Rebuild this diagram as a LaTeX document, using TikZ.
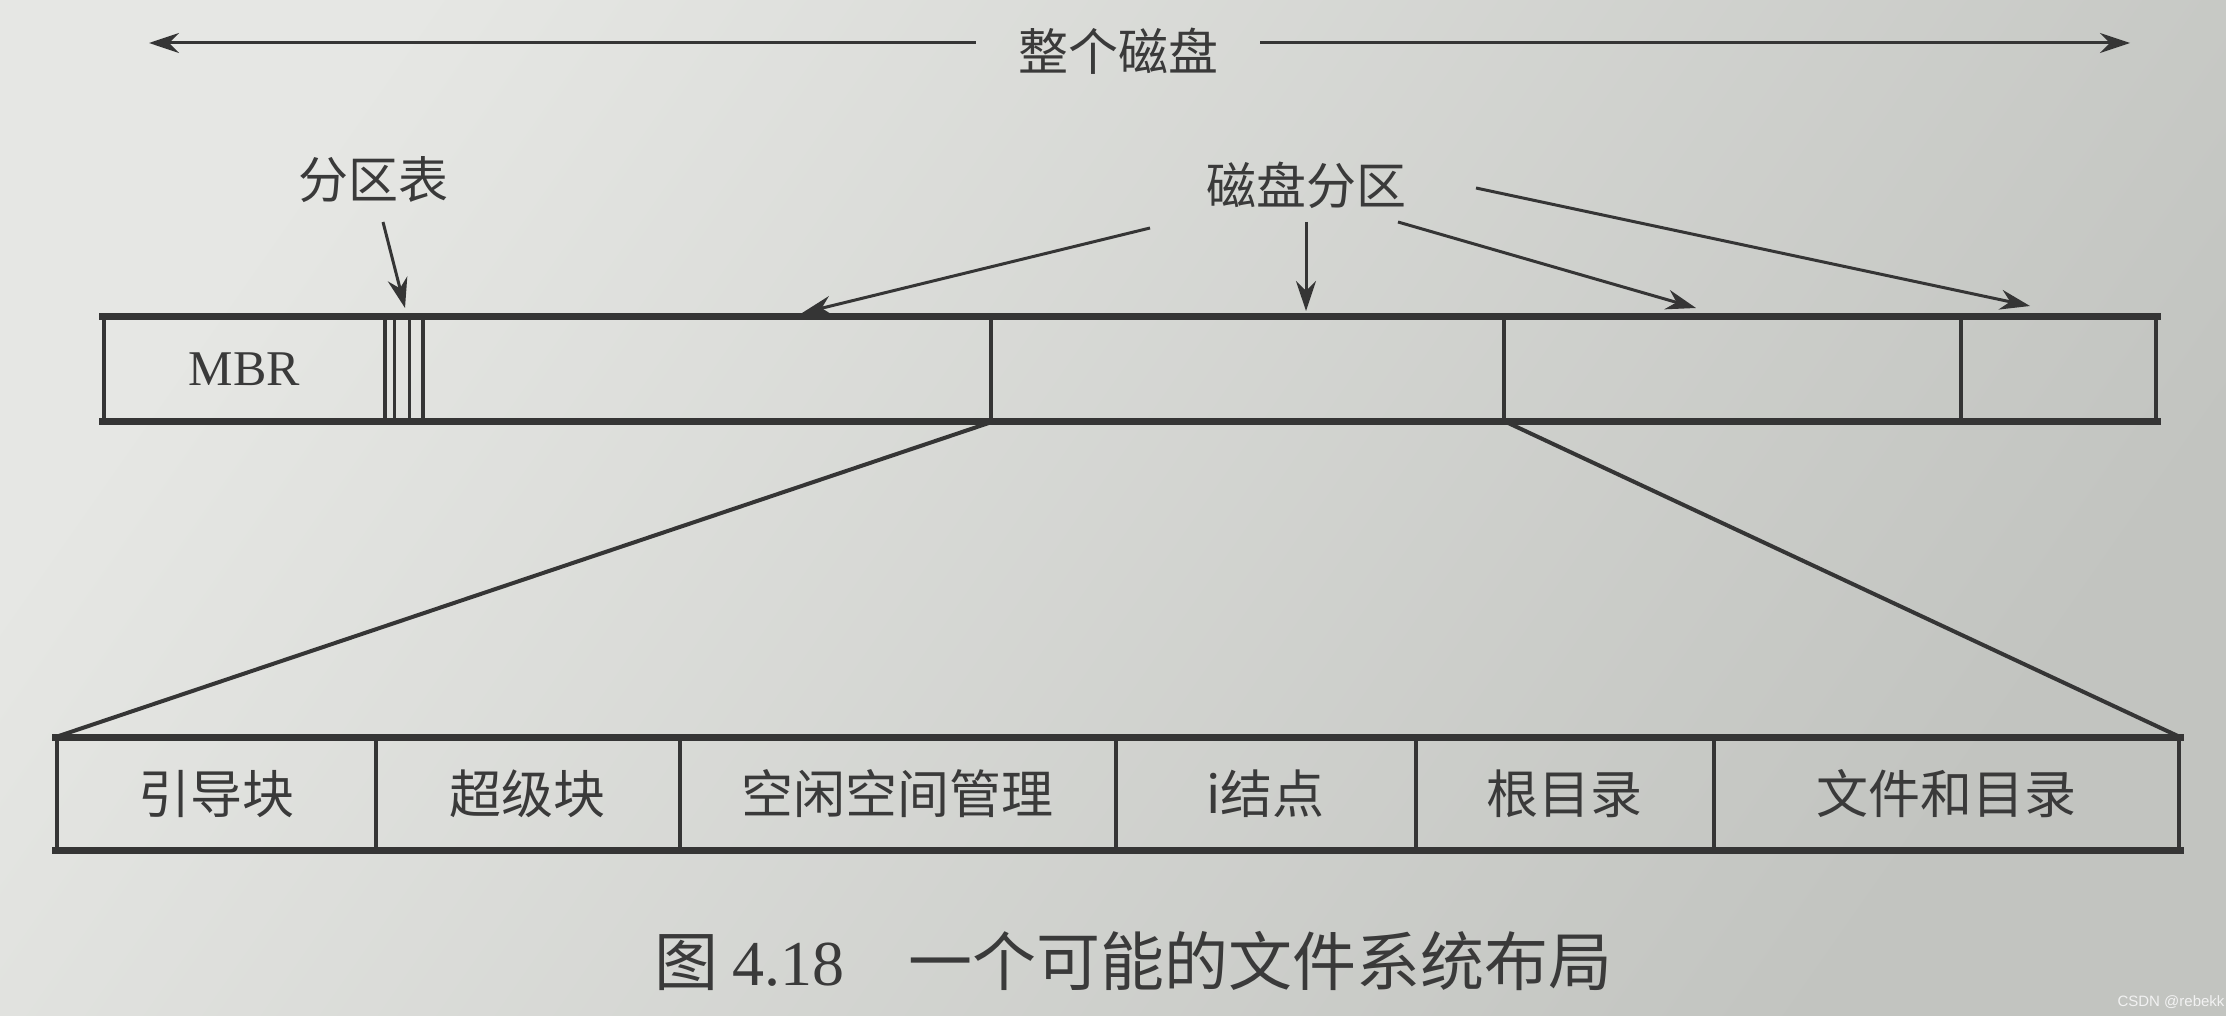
\documentclass[tikz,border=0pt]{standalone}
\usepackage{fontspec}
\setmainfont{Liberation Serif}
\newfontfamily\cjk{Noto Sans CJK SC}
\newfontfamily\wmfont{Liberation Sans}
\usetikzlibrary{arrows.meta,calc}
\definecolor{ink}{HTML}{353535}
\definecolor{txt}{HTML}{3A3A3A}
\definecolor{bgA}{HTML}{E6E7E4}
\definecolor{bgB}{HTML}{C2C4C0}
\tikzset{
  cell/.style={draw=ink, line width=3.5pt, minimum height=102pt, inner sep=0pt, anchor=west, text=txt},
  bcell/.style={cell, minimum height=110pt, font=\cjk\fontsize{52}{60}\selectfont},
  edge/.style={draw=ink, line width=7pt, line cap=rect},
  thinline/.style={draw=ink, line width=3pt},
  link/.style={draw=ink, line width=4pt},
  lbl/.style={text=txt, inner sep=0pt, font=\cjk\fontsize{50}{60}\selectfont},
  arr/.style={draw=ink, line width=3pt, -{Stealth[length=30pt,width=20pt]}},
}
\begin{document}
\begin{tikzpicture}[x=1pt,y=-1pt]
\useasboundingbox (0,0) rectangle (2226,1016);
\shade[top color=bgA, bottom color=bgB, shading angle=55] (0,0) rectangle (2226,1016);

% whole disk
\node[lbl, inner xsep=42pt] (whole) at (1118,51) {整个磁盘};
\coordinate (L) at (149,43);
\coordinate (R) at (2130,43);
\draw[arr] (L -| whole.west) -- (L);
\draw[arr] (R -| whole.east) -- (R);

% top bar
\node[cell, minimum width=281pt, font=\fontsize{50}{56}\selectfont] (mbr) at (102,369) {MBR};
\node[cell, minimum width=38pt] (pt) at (383,369) {};
\node[cell, minimum width=568pt] (p1) at (421,369) {};
\node[cell, minimum width=513pt] (p2) at (989,369) {};
\node[cell, minimum width=457pt] (p3) at (1502,369) {};
\node[cell, minimum width=195pt] (p4) at (1959,369) {};
\draw[thinline] ($(pt.north west)!0.27!(pt.north east)$) -- ($(pt.south west)!0.27!(pt.south east)$);
\draw[thinline] ($(pt.north west)!0.63!(pt.north east)$) -- ($(pt.south west)!0.63!(pt.south east)$);
\draw[edge] (mbr.north west) -- (p4.north east);
\draw[edge] (mbr.south west) -- (p4.south east);

% labels and arrows
\node[lbl] (ptl) at (373,180) {分区表};
\coordinate (ept) at (405,308);
\draw[arr] ($(ptl.center)+(10,42)$) -- (ept);

\node[lbl] (dp) at (1306,185) {磁盘分区};
\coordinate (e1) at (802,313);
\coordinate (e2) at (1306,311);
\coordinate (e3) at (1696,308);
\coordinate (e4) at (2030,306);
\draw[arr] ($(dp.center)+(-156,43)$) -- (e1);
\draw[arr] ($(dp.center)+(0,37)$) -- (e2);
\draw[arr] ($(dp.center)+(92,37)$) -- (e3);
\draw[arr] ($(dp.center)+(170,3)$) -- (e4);

% bottom bar
\node[bcell, minimum width=319pt] (b1) at (55,794) {引导块};
\node[bcell, minimum width=304pt] (b2) at (374,794) {超级块};
\node[bcell, minimum width=436pt] (b3) at (678,794) {空闲空间管理};
\node[bcell, minimum width=300pt] (b4) at (1114,794) {i结点};
\node[bcell, minimum width=298pt] (b5) at (1414,794) {根目录};
\node[bcell, minimum width=465pt] (b6) at (1712,794) {文件和目录};
\draw[edge] (b1.north west) -- (b6.north east);
\draw[edge] (b1.south west) -- (b6.south east);

% expansion lines
\draw[link] (p1.south east) -- (b1.north west);
\draw[link] (p2.south east) -- (b6.north east);

% caption
\node[anchor=west, inner sep=0pt, text=txt, font=\fontsize{64}{72}\selectfont] (cap) at (654,961)
  {{\cjk 图}\hspace{14pt}4.18\hspace{64pt}{\cjk 一个可能的文件系统布局}};

% watermark
\node[inner sep=0pt, text=white!90!gray, font=\wmfont\fontsize{15}{18}\selectfont] (wm) at (2171,1002) {CSDN @rebekk};
\end{tikzpicture}
\end{document}
